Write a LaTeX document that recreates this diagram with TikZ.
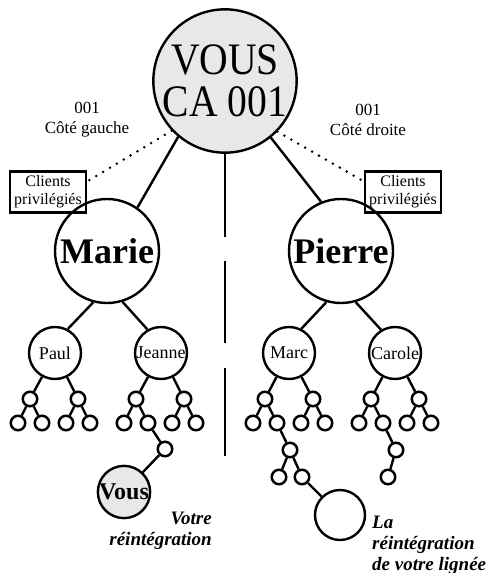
\documentclass[tikz,border=0pt]{standalone}
\usepackage{fontspec}
\setmainfont{Liberation Serif}
\newfontfamily\vousfont[FakeStretch=0.88]{Liberation Serif}
\definecolor{vousgray}{HTML}{E8E8E8}
\tikzset{
  big/.style={circle,draw,line width=2.4pt,inner sep=0pt,minimum size=104pt,
    font=\fontsize{36}{40}\selectfont\bfseries},
  mid/.style={circle,draw,line width=2.4pt,inner sep=0pt,minimum size=52pt,
    font=\fontsize{18}{20}\selectfont},
  leaf/.style={circle,draw,line width=2.5pt,inner sep=0pt,minimum size=14.5pt},
  clientbox/.style={draw,line width=2.2pt,inner sep=0pt,minimum width=76pt,
    minimum height=41pt,align=center,font=\fontsize{16}{18}\selectfont},
  link/.style={line width=2.4pt},
  dots/.style={line width=2.8pt,line cap=round,dash pattern=on 0pt off 8pt},
  note/.style={inner sep=0pt,font=\fontsize{19}{21}\selectfont\bfseries\itshape}
}

\begin{document}
\begin{tikzpicture}[x=1pt,y=-1pt]
  \useasboundingbox (0,0) rectangle (495,573);
  % top
  \node[circle,draw,line width=2.4pt,fill=vousgray,minimum size=143pt,inner sep=0pt,
    align=center,font=\vousfont\fontsize{45}{42}\selectfont] (vous) at (225,81) {VOUS\\CA 001};
  \node[align=center,font=\fontsize{17}{20}\selectfont] (gauche) at (87,120) {001\\Côté gauche};
  \node[align=center,font=\fontsize{17}{20}\selectfont] (droite) at (368,120) {001\\Côté droite};
  \node[clientbox] (boxg) at (48,192) {Clients\\privilégiés};
  \node[clientbox] (boxd) at (403,192) {Clients\\privilégiés};
  \draw[dots] (vous.-137) -- (boxg.15);
  \draw[dots] (vous.-44) -- (boxd.165);
  \coordinate (divend) at (225,456);
  \draw[link,dash pattern=on 83.5pt off 24pt on 82pt off 25pt on 100pt] (vous.south) -- (divend);
  % legs
  \node[big] (marie) at (107,251) {Marie};
  \node[big] (pierre) at (341,251) {Pierre};
  \draw[link] (vous.-130) -- (marie.55);
  \draw[link] (vous.-51) -- (pierre.112);
  \node[mid] (paul) at (55,353) {Paul};
  \node[mid] (jeanne) at (161,353) {Jeanne};
  \node[mid] (marc) at (289,353) {Marc};
  \node[mid] (carole) at (395,353) {Carole};
  \draw[link] (marie.-105) -- (paul.62) (marie.-73) -- (jeanne.120);
  \draw[link] (pierre.-106) -- (marc.63) (pierre.-74) -- (carole.121);
  % small trees
  \foreach \p/\x in {paul/54,jeanne/160,marc/289,carole/395}{
    \node[leaf] (\p-1) at ({\x-24},399) {};
    \node[leaf] (\p-2) at ({\x+24},399) {};
    \node[leaf] (\p-11) at ({\x-36},423) {};
    \node[leaf] (\p-12) at ({\x-12},423) {};
    \node[leaf] (\p-21) at ({\x+12},423) {};
    \node[leaf] (\p-22) at ({\x+36},423) {};
    \draw[link] (\p) -- (\p-1) (\p) -- (\p-2)
      (\p-1) -- (\p-11) (\p-1) -- (\p-12) (\p-2) -- (\p-21) (\p-2) -- (\p-22);}
  % reintegration
  \node[leaf] (j1) at (165,449) {};
  \node[circle,draw,line width=2.4pt,fill=vousgray,minimum size=52pt,inner sep=0pt,
    font=\fontsize{24}{24}\selectfont\bfseries] (toi) at (124,492) {Vous};
  \draw[link] (jeanne-12) -- (j1) -- (toi);
  \node[leaf] (m1) at (290,450) {};
  \node[leaf] (m2) at (279,477) {};
  \node[leaf] (m3) at (302,477) {};
  \node[circle,draw,line width=2.4pt,minimum size=50pt] (lignee) at (340,515) {};
  \draw[link] (marc-12) -- (m1) -- (m2) (m1) -- (m3) -- (lignee);
  \node[leaf] (c1) at (396,450) {};
  \node[leaf] (c2) at (388,477) {};
  \draw[link] (carole-12) -- (c1) -- (c2);
  \node[note,align=right,anchor=east] (txtvous) at (212,531) {Votre\\réintégration};
  \node[note,align=left,anchor=west] (txtlignee) at (372,545) {La\\réintégration\\de votre lignée};
\end{tikzpicture}
\end{document}
